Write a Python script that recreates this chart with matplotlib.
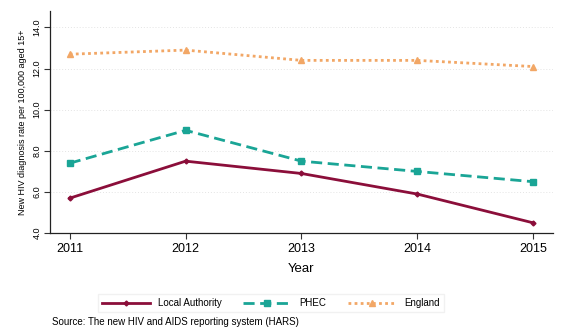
import matplotlib
matplotlib.use("Agg")
import matplotlib.pyplot as plt

plt.rcParams['font.family'] = ['Liberation Sans', 'DejaVu Sans']

years = [2011, 2012, 2013, 2014, 2015]
local_authority = [5.7, 7.5, 6.9, 5.9, 4.5]
phec = [7.4, 9.0, 7.5, 7.0, 6.5]
england = [12.7, 12.9, 12.4, 12.4, 12.1]
yticks = [4.0, 6.0, 8.0, 10.0, 12.0, 14.0]

fig = plt.figure(figsize=(5.82, 3.34), dpi=100)
ax = fig.add_axes([0.086, 0.302, 0.864, 0.665])

ax.plot(years, local_authority, color='#8B0E3A', lw=2.0, ls='-', marker='D', ms=2.5,
        label='Local Authority', zorder=3)
ax.plot(years, phec, color='#1AA596', lw=2.0, ls=(0, (4, 2)), marker='s', ms=5,
        label='PHEC', zorder=3)
ax.plot(years, england, color='#F2A766', lw=2.0, ls=(0, (1, 1.2)), marker='^', ms=5,
        label='England', zorder=3)

ax.set_xlim(2010.83, 2015.17)
ax.set_ylim(4.0, 14.8)
ax.set_xticks(years)
ax.set_xticklabels([str(y) for y in years], fontsize=9)
ax.set_yticks(yticks)
ax.set_yticklabels([f"{v:.1f}" for v in yticks], fontsize=6.5, rotation=90, va='center')
ax.tick_params(axis='both', direction='out', length=4, width=0.8, color='#333333')
ax.tick_params(axis='x', pad=3)
ax.tick_params(axis='y', pad=2)
for v in yticks[1:]:
    ax.axhline(v, color='#E4E4E4', lw=0.7, ls=(0, (1, 2)), zorder=1)
for s in ['top', 'right']:
    ax.spines[s].set_visible(False)
for s in ['left', 'bottom']:
    ax.spines[s].set_color('#222222')
    ax.spines[s].set_linewidth(0.9)

ax.set_xlabel('Year', fontsize=9.5, labelpad=6)
ax.set_ylabel('New HIV diagnosis rate per 100,000 aged 15+', fontsize=6.5, labelpad=4)

leg = fig.legend(loc='center', bbox_to_anchor=(0.465, 0.093), ncol=3, fontsize=7,
                 frameon=True, fancybox=False, edgecolor='#EEEEEE', handlelength=5,
                 columnspacing=2.2, borderpad=0.4)
fig.text(0.09, 0.035, 'Source: The new HIV and AIDS reporting system (HARS)', fontsize=7,
         va='center', ha='left')

fig.savefig('out.png', dpi=100)
